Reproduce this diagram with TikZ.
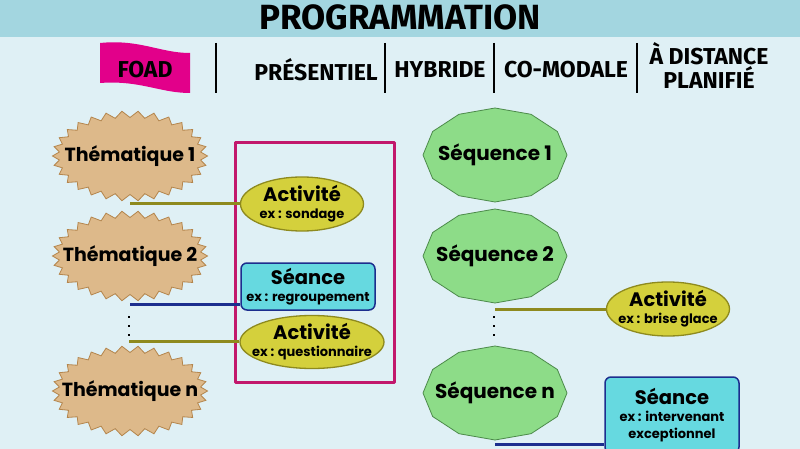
\documentclass[tikz,border=0pt]{standalone}
\usepackage{fontspec}
\setmainfont{Poppins}
\newfontfamily\headfont{Fira Sans}
\usetikzlibrary{shapes.geometric,calc,backgrounds}
\definecolor{bande}{HTML}{A3D6E0}
\definecolor{fond}{HTML}{DFF0F5}
\definecolor{foad}{HTML}{E2008A}
\definecolor{cadre}{HTML}{C2186C}
\definecolor{sable}{HTML}{DDB98A}
\definecolor{sablefonce}{HTML}{B4854C}
\definecolor{jaune}{HTML}{D4D03C}
\definecolor{olive}{HTML}{8E8A1E}
\definecolor{turquoise}{HTML}{66D9E0}
\definecolor{marine}{HTML}{1C2E8E}
\definecolor{vert}{HTML}{8DDC88}
\definecolor{vertfonce}{HTML}{4C8A4A}
\newcommand{\grand}[1]{{\fontsize{19.5}{20}\selectfont #1}}
\begin{document}
\begin{tikzpicture}[x=1pt,y=-1pt, line join=round, font=\bfseries,
	theme/.style={ellipse, minimum width=155pt, minimum height=90pt, inner sep=0pt,
		font=\bfseries\fontsize{19}{21}\selectfont},
	seqnode/.style={ellipse, minimum width=144pt, minimum height=94pt, inner sep=0pt,
		font=\bfseries\fontsize{20}{22}\selectfont},
	activite/.style={ellipse, fill=jaune, draw=olive, line width=1.3pt, inner xsep=-14pt, inner ysep=0pt,
		align=center, font=\bfseries\fontsize{13}{17}\selectfont},
	seance/.style={rectangle, rounded corners=6pt, fill=turquoise, draw=marine, line width=1.5pt,
		inner sep=0pt, align=center, minimum width=134pt, font=\bfseries\fontsize{13}{17}\selectfont},
	entete/.style={font=\headfont\bfseries\fontsize{23}{25}\selectfont, align=center},
	barre/.style={line width=2.2pt},
	oline/.style={olive, line width=3pt},
	nline/.style={marine, line width=3pt}]
	\def\ax{72} \def\ay{47} % demi-axes des sequences
	\def\bx{77.5} \def\by{45} \def\pic{6.5} % etoiles des thematiques
	\useasboundingbox (0,0) rectangle (800,449);
	\begin{scope}[on background layer]
		\fill[fond] (0,0) rectangle (800,449);
		\fill[bande] (0,0) rectangle (800,37);
	\end{scope}
	\node[font=\headfont\bfseries\fontsize{35}{37}\selectfont] (titre) at (400,17) {PROGRAMMATION};
	% bandeau des modalites
	\fill[foad] (100,43) .. controls (140,39) and (160,53) .. (190,53) -- (190,93)
		.. controls (160,93) and (140,80) .. (100,83) -- cycle;
	\node[entete] (foad) at (145,70) {FOAD};
	\foreach \x in {216,385,494,637} \draw[barre] (\x,43) -- (\x,93);
	\node[entete] (pres) at (316,70) {PRÉSENTIEL};
	\node[entete] (hyb) at (440,70) {HYBRIDE};
	\node[entete] (como) at (566,70) {CO-MODALE};
	\node[entete, font=\headfont\bfseries\fontsize{23}{24}\selectfont] (dist) at (709,66) {À DISTANCE\\PLANIFIÉ};
	% thematiques
	\node[theme] (thm1) at (130,156) {Thématique 1};
	\node[theme] (thm2) at (130,256) {Thématique 2};
	\node[theme] (thmn) at (130,391) {Thématique n};
	\begin{scope}[on background layer]
		\foreach \s in {thm1,thm2,thmn}
			\draw[fill=sable, draw=sablefonce, line width=0.8pt] ($(\s)+(\bx,0)$)
				\foreach \a in {6,12,...,354} {
					-- ($(\s)+({(\bx-\pic*mod(\a/6,2))*cos(\a)},{(\by-\pic*mod(\a/6,2))*sin(\a)})$) } -- cycle;
	\end{scope}
	\foreach \y in {317,326,335} \fill (127.7,\y-1.3) rectangle ++(2.6,2.6);
	\coordinate (dotsl) at (129,341);
	\draw[cadre, line width=3pt] (235,143) rectangle (394,382);
	\node[activite, minimum width=123pt, minimum height=54pt] (act1) at (302,204) {\grand{Activité}\\ex : sondage};
	\node[seance, minimum height=47pt] (sea1) at (308,286.5) {\grand{Séance}\\ex : regroupement};
	\node[activite, minimum width=144pt, minimum height=53pt] (act2) at (312,342) {\grand{Activité}\\ex : questionnaire};
	\draw[oline] (thm1.south |- act1.west) -- (act1.west);
	\draw[nline] ([yshift=-3pt]thm2.south) -- ([yshift=-3pt]thm2.south -| sea1.west);
	\draw[oline] (dotsl) -- (dotsl -| act2.west);
	% sequences
	\node[seqnode] (seq1) at (495,155) {Séquence 1};
	\node[seqnode] (seq2) at (495,256) {Séquence 2};
	\node[seqnode] (seqn) at (495,393) {Séquence n};
	\begin{scope}[on background layer]
		\foreach \s in {seq1,seq2,seqn}
			\draw[fill=vert, draw=vertfonce, line width=0.8pt] ($(\s)+(\ax,0)$)
				\foreach \a in {30,60,...,330} { -- ($(\s)+({\ax*cos(\a)},{\ay*sin(\a)})$) } -- cycle;
	\end{scope}
	\foreach \y in {317,326,335} \fill (492.7,\y-1.3) rectangle ++(2.6,2.6);
	\node[activite, minimum width=123pt, minimum height=54pt] (act3) at (668,309) {\grand{Activité}\\ex : brise glace};
	\node[seance, minimum height=76pt] (sea2) at (672,415) {\grand{Séance}\\ex : intervenant\\exceptionnel};
	\draw[oline] (seq2.south |- act3.west) -- (act3.west);
	\draw[nline] ([yshift=-4pt]seqn.south) -- ([yshift=-4pt]seqn.south -| sea2.west);
\end{tikzpicture}
\end{document}
